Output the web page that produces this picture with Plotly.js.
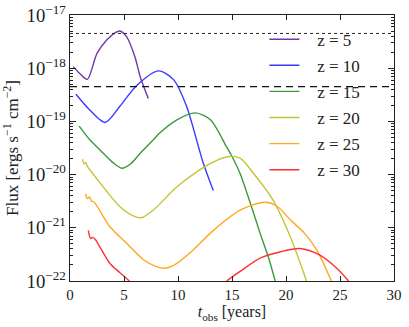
<!DOCTYPE html>
<html>
<head>
<meta charset="utf-8">
<script src="https://cdn.plot.ly/plotly-3.0.1.min.js"></script>
<style>
  html, body { margin: 0; padding: 0; background: #fff; }
  #plot { width: 409px; height: 327px; }
</style>
</head>
<body>
<div id="plot"></div>
<script>
// values, log10 of flux
const z5_t    = [0.3, 0.9, 1.6, 2.5, 3.4, 4.2, 4.6, 5.25, 6.0, 6.5, 6.95, 7.25];
const z5_lf   = [-17.97, -18.1, -18.21, -17.72, -17.47, -17.33, -17.30, -17.41, -17.78, -18.16, -18.41, -18.57];

const z10_t   = [0.55, 1.85, 3.25, 4.6, 6.2, 8.2, 9.6, 10.8, 11.9, 12.35, 13.27];
const z10_lf  = [-18.49, -18.79, -19.02, -18.72, -18.32, -18.05, -18.22, -18.72, -19.48, -19.79, -20.30];

const z15_t   = [0.85, 1.85, 2.8, 4.0, 4.8, 5.6, 6.5, 7.7, 8.3, 9.9, 11.6, 13.0, 14.5, 15.0, 15.75, 16.7, 17.6, 18.35, 19.0];
const z15_lf  = [-19.09, -19.35, -19.54, -19.78, -19.88, -19.8, -19.6, -19.35, -19.22, -18.97, -18.84, -18.97, -19.48, -19.66, -19.98, -20.54, -21.1, -21.54, -22.0];

const z20_t   = [1.15, 1.3, 1.45, 1.6, 2.8, 4.6, 5.9, 6.6, 7.7, 9.9, 12.0, 13.5, 14.7, 15.75, 17.0, 18.8, 20.4, 21.9];
const z20_lf  = [-19.71, -19.8, -19.77, -19.84, -20.16, -20.6, -20.78, -20.81, -20.67, -20.23, -19.91, -19.74, -19.66, -19.69, -19.98, -20.48, -21.17, -22.0];

const z25_t   = [1.45, 1.6, 1.8, 2.0, 2.2, 3.7, 5.3, 6.8, 8.0, 8.8, 9.9, 11.5, 13.0, 15.75, 18.05, 19.2, 20.4, 21.7, 22.85, 24.2];
const z25_lf  = [-20.36, -20.45, -20.42, -20.5, -20.51, -20.98, -21.3, -21.6, -21.73, -21.76, -21.67, -21.4, -21.1, -20.67, -20.52, -20.6, -20.85, -21.1, -21.42, -22.0];

const z30_t   = [1.7, 1.9, 2.1, 2.35, 2.6, 3.7, 4.6, 5.5, null, 14.5, 15.75, 17.6, 19.5, 21.3, 23.1, 24.7, 25.8];
const z30_lf  = [-21.05, -21.2, -21.18, -21.22, -21.3, -21.67, -21.84, -22.0, null, -22.0, -21.82, -21.57, -21.45, -21.39, -21.51, -21.76, -22.0];

const labels  = ['z = 5', 'z = 10', 'z = 15', 'z = 20', 'z = 25', 'z = 30'];
const colors  = ['#7038a8', '#3a3aff', '#3a9a3a', '#c4c43a', '#ffa820', '#ff3030'];

const dotted_level = 4.5e-18;
const dashed_level = 4.5e-19;
const t_range = [0, 30];

const serif = 'Liberation Serif, DejaVu Serif, serif';
const pad = '\u00a0\u00a0\u00a0';

function pow10(arr) {
  return arr.map(v => v === null ? null : Math.pow(10, v));
}

const series = [
  [z5_t, z5_lf], [z10_t, z10_lf], [z15_t, z15_lf],
  [z20_t, z20_lf], [z25_t, z25_lf], [z30_t, z30_lf]
];

let traces = series.map((s, i) => ({
  x: s[0],
  y: pow10(s[1]),
  type: 'scatter',
  mode: 'lines',
  name: pad + labels[i],
  legendgroup: 'g' + i,
  line: { color: colors[i], width: 1.4, shape: 'spline', smoothing: 0.8 },
  connectgaps: false
}));

traces.push({
  x: t_range, y: [dotted_level, dotted_level],
  type: 'scatter', mode: 'lines', showlegend: false,
  line: { color: '#222', width: 1, dash: 'dot' }
});
traces.push({
  x: t_range, y: [dashed_level, dashed_level],
  type: 'scatter', mode: 'lines', showlegend: false,
  line: { color: '#111', width: 1.4, dash: '7px,5px' }
});

let layout = {
  width: 409,
  height: 327,
  margin: { l: 70, r: 15, t: 15, b: 46 },
  paper_bgcolor: '#fff',
  plot_bgcolor: '#fff',
  font: { family: serif, size: 15, color: '#222' },
  showlegend: true,
  legend: {
    x: 0.6, y: 0.975, xanchor: 'left', yanchor: 'top',
    bgcolor: 'rgba(0,0,0,0)',
    font: { family: serif, size: 17, color: '#222' },
    tracegroupgap: 1
  },
  xaxis: {
    range: t_range,
    dtick: 5,
    ticks: 'inside', ticklen: 5, tickcolor: '#222',
    mirror: 'ticks', showline: true, linecolor: '#222', linewidth: 1.2,
    showgrid: false, zeroline: false,
    tickfont: { family: serif, size: 15 },
    title: { text: '<i>t</i><sub>obs</sub> [years]', font: { family: serif, size: 16 }, standoff: 3 }
  },
  yaxis: {
    type: 'log',
    range: [-22, -17],
    dtick: 1,
    exponentformat: 'power',
    ticks: 'inside', ticklen: 6, tickcolor: '#222',
    minor: { ticks: 'inside', ticklen: 3, tickcolor: '#222', dtick: 'D1' },
    mirror: 'ticks', showline: true, linecolor: '#222', linewidth: 1.2,
    showgrid: false, zeroline: false,
    tickfont: { family: serif, size: 15 },
    title: { text: 'Flux [ergs s<sup>−1</sup> cm<sup>−2</sup>]', font: { family: serif, size: 17 }, standoff: 3 }
  }
};

Plotly.newPlot('plot', traces, layout, { displayModeBar: false, staticPlot: true });
</script>
</body>
</html>
